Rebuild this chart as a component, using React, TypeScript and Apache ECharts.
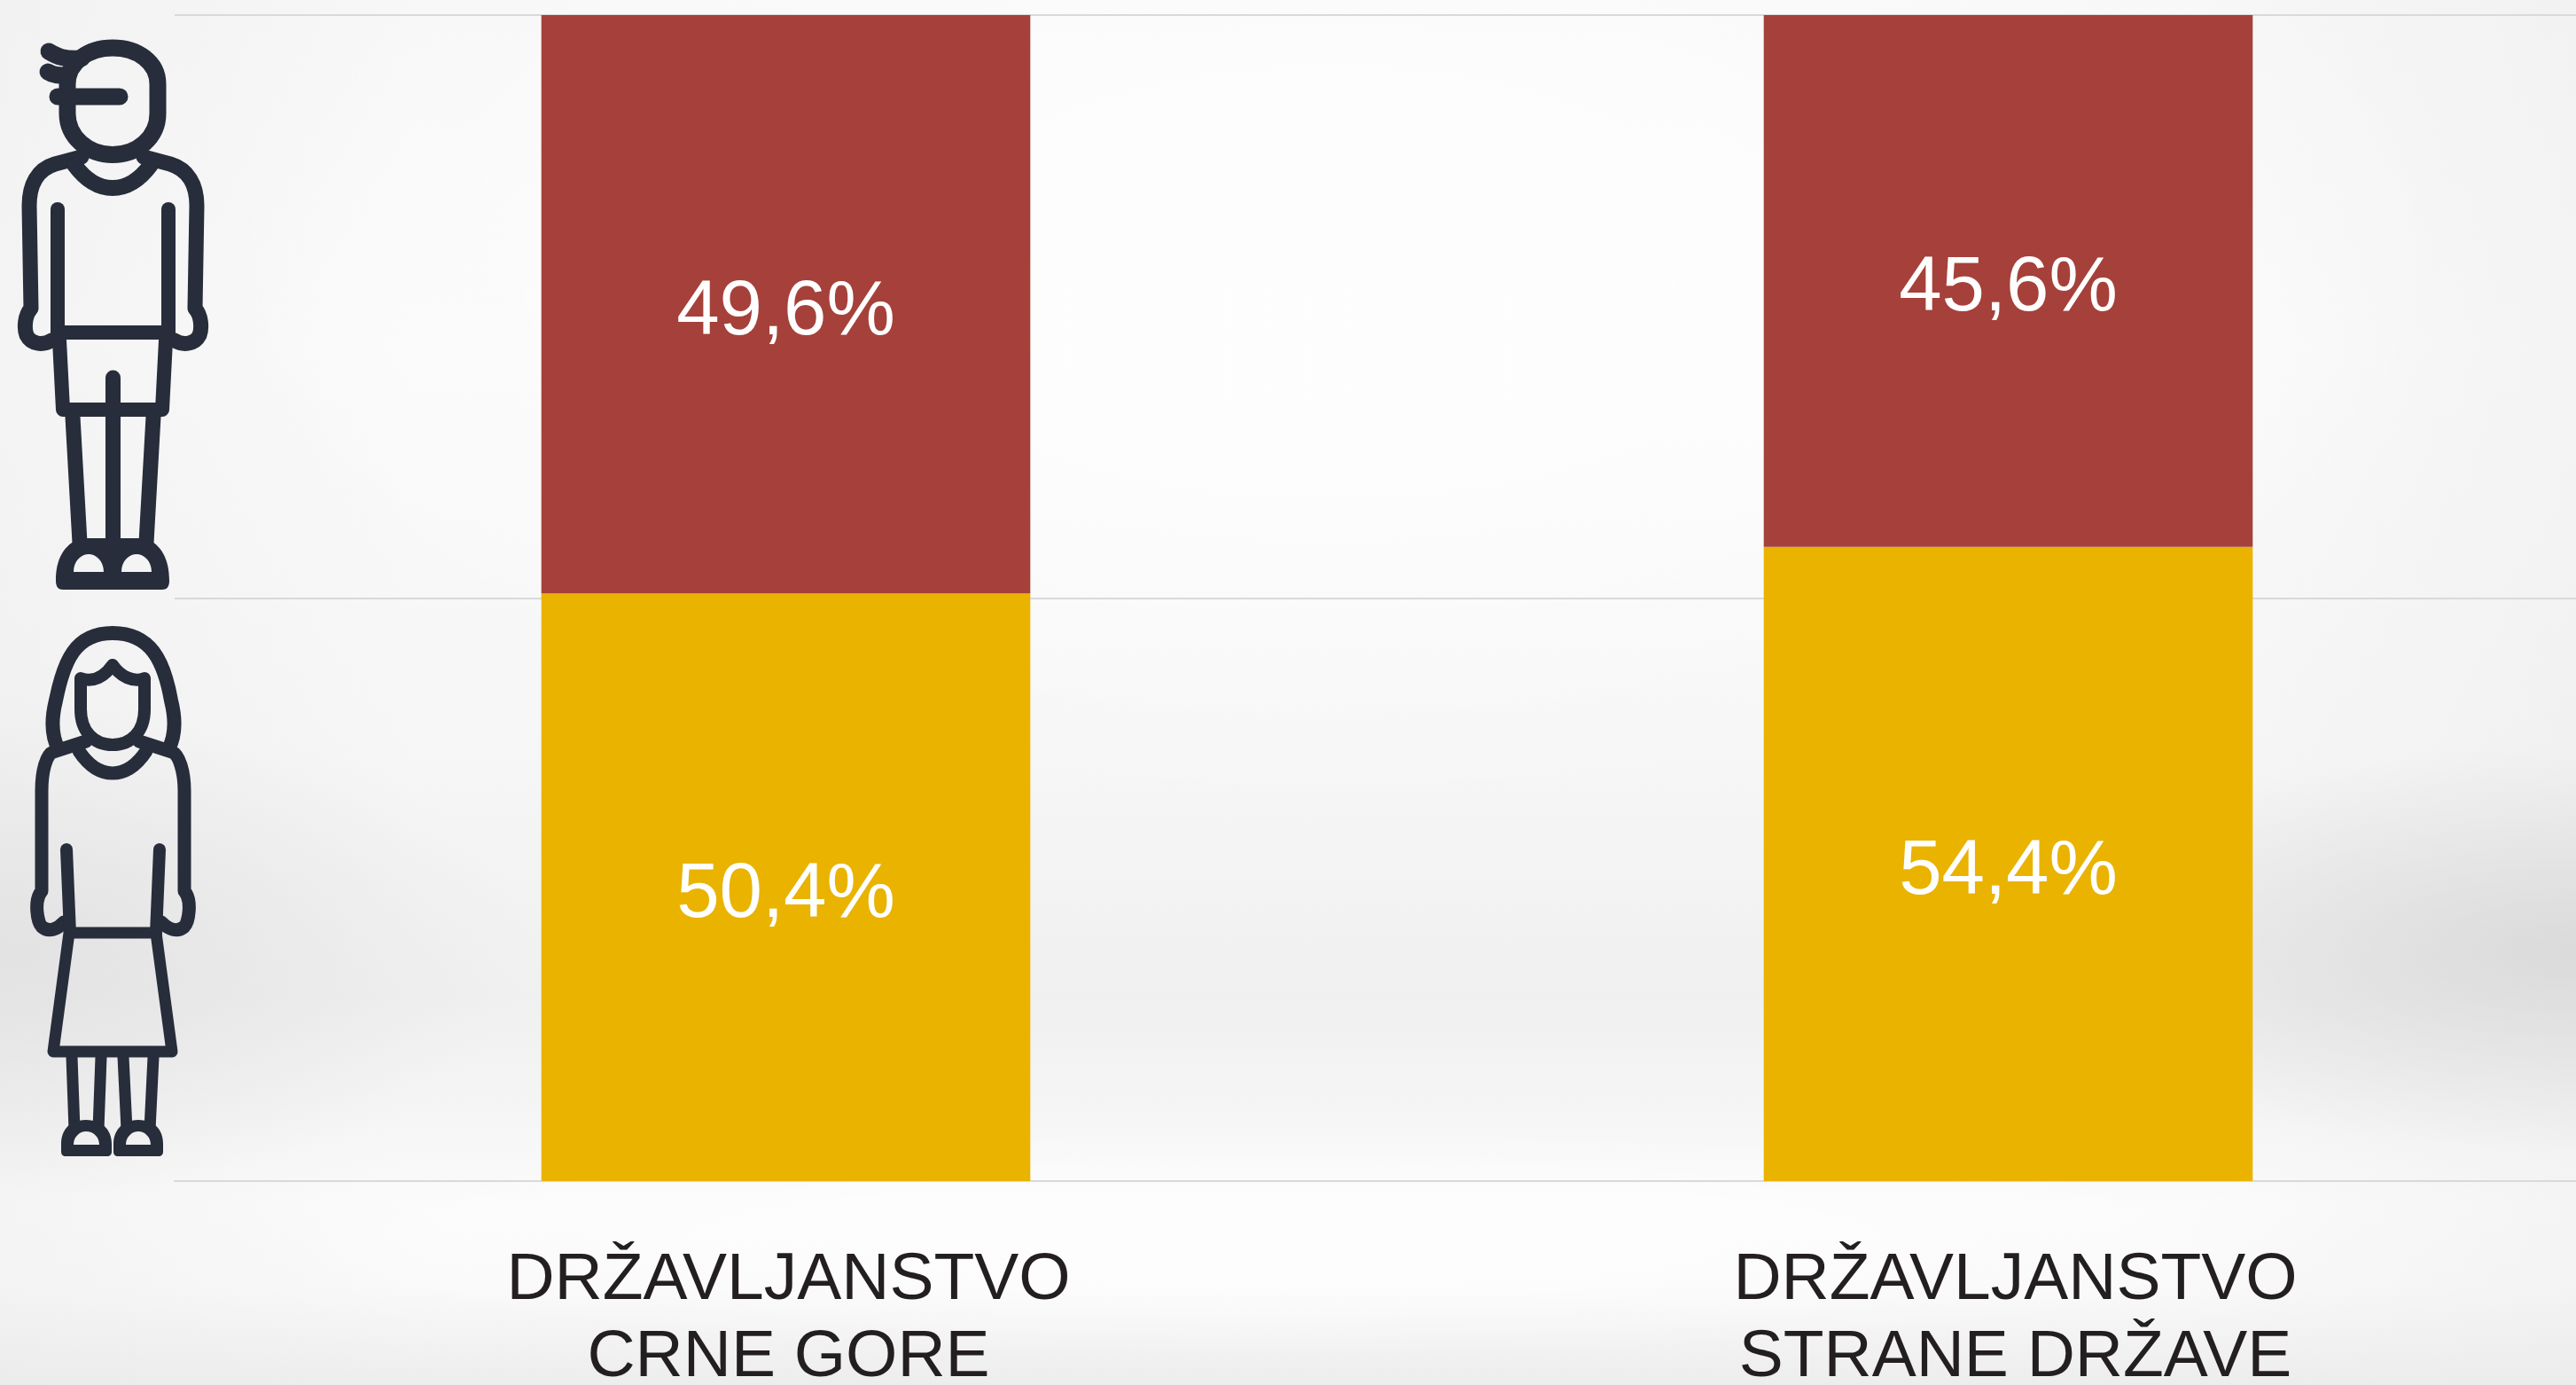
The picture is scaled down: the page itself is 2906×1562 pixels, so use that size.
import React, { useEffect, useRef } from "react";
import * as echarts from "echarts";

const categories = ["DRŽAVLJANSTVO\nCRNE GORE", "DRŽAVLJANSTVO\nSTRANE DRŽAVE"];
const womenShare = [50.4, 54.4];
const menShare = [49.6, 45.6];
const INK = "#272D3A";

const manLines = [
  "M76 95 C76 70 100 54 127 54 C155 54 178 70 178 95 L178 128 C178 155 155 174.5 127 174.5 C100 174.5 76 155 76 128 Z",
  "M55 58 C65 64 72 67 92 66",
  "M54 81 C60 85 66 85 76 85",
  "M65 109 L135 109",
  "M92 177 L62 185 C42 191 33 208 33 232 L35 348 C28 355 27 370 30 378 C35 388 48 390 58 384",
  "M162 177 L192 185 C212 191 222 208 222 232 L220 348 C227 355 228 370 225 378 C220 388 207 390 197 384",
  "M84 186 C98 205 112 212 127 212 C142 212 156 205 170 186",
  "M65 236 L65 382",
  "M190 236 L190 382",
  "M65 375 L190 375",
  "M67 384 L71 462 L183 462 L187 384",
  "M127.5 426 L127.5 640",
  "M82 470 L90 612",
  "M173 470 L165 612",
];
const manWidths = [19, 19, 19, 19, 17, 17, 18, 16, 16, 16, 16, 17, 17, 17];
const manFill =
  "M63 655 C63 630 72 615 90 607 L165 607 C182 615 191 630 191 655 C191 662 188 665 183 665 L71 665 C66 665 63 662 63 655 Z " +
  "M83 645 L117 645 C117 632 108 625 100 625 C92 625 83 632 83 645 Z " +
  "M137 645 L171 645 C171 632 162 625 154 625 C146 625 137 632 137 645 Z";

const womanLines = [
  "M66 845 C58 830 58 810 63 790 C72 745 85 714 127 714 C170 714 185 745 193 790 C198 810 198 830 190 845",
  "M91 765 C105 770 118 763 127 750 C136 763 150 770 163 765 L163 800 C163 825 148 840 127 840 C106 840 91 825 91 800 Z",
  "M97 836 L60 848 C52 851 47 870 47 892 L47 1005 C38 1015 42 1040 47 1045 C55 1052 65 1048 72 1040",
  "M157 836 L194 848 C202 851 208 870 208 892 L208 1005 C217 1015 213 1040 208 1045 C200 1052 190 1048 182 1040",
  "M89 847 C101 865 114 872 127 872 C140 872 153 865 165 847",
  "M75 958 L79 1053",
  "M180 958 L176 1053",
  "M78 1052 L176 1052 L194 1186 L60 1186 Z",
  "M81 1192 L84 1274",
  "M114 1192 L111 1274",
  "M139 1192 L143 1274",
  "M173 1192 L169 1274",
];
const womanWidths = [16, 14, 15, 15, 15, 14, 14, 13, 13, 13, 13, 13];
const womanFill =
  "M69 1290 C69 1275 78 1263 97 1263 C116 1263 126 1275 126 1290 L126 1299 C126 1302 124 1304 121 1304 L74 1304 C71 1304 69 1302 69 1299 Z " +
  "M83 1291 L112 1291 C112 1282 105 1276 97 1276 C90 1276 83 1282 83 1291 Z " +
  "M128 1290 C128 1275 138 1263 156 1263 C175 1263 184 1275 184 1290 L184 1299 C184 1302 182 1304 179 1304 L133 1304 C130 1304 128 1302 128 1299 Z " +
  "M142 1291 L170 1291 C170 1282 163 1276 156 1276 C149 1276 142 1282 142 1291 Z";

const strokeShape = (name: string, d: string, width: number) => {
  echarts.graphic.registerShape(name, echarts.graphic.extendPath(d as any, {}) as any);
  return {
    type: name,
    silent: true,
    style: { fill: "none", stroke: INK, lineWidth: width, lineCap: "round", lineJoin: "round" },
  };
};
const fillShape = (name: string, d: string) => {
  echarts.graphic.registerShape(name, echarts.graphic.extendPath(d as any, {}) as any);
  return { type: name, silent: true, style: { fill: INK } };
};

const bgStyle: React.CSSProperties = {
  position: "absolute",
  left: 0,
  top: 0,
  width: 2906,
  height: 1562,
  overflow: "hidden",
  background: [
    "radial-gradient(ellipse 1300px 620px at 1500px 300px, rgba(255,255,255,0.7) 30%, rgba(255,255,255,0) 100%)",
    "radial-gradient(ellipse 1200px 130px at 1450px 1400px, rgba(255,255,255,0.6) 30%, rgba(255,255,255,0) 100%)",
    "radial-gradient(ellipse 650px 230px at 2906px 1070px, rgba(205,205,205,0.6) 0%, rgba(205,205,205,0) 100%)",
    "radial-gradient(ellipse 600px 280px at 0px 1070px, rgba(215,215,215,0.5) 0%, rgba(215,215,215,0) 100%)",
    "linear-gradient(90deg, rgba(232,232,232,0.35) 0%, rgba(235,235,235,0) 16%, rgba(235,235,235,0) 85%, rgba(232,232,232,0.35) 100%)",
    "linear-gradient(180deg, #f7f7f7 0%, #fafafa 25%, #f6f6f6 55%, #f0f0f0 72%, #f5f5f5 80%, #fbfbfb 87%, #f9f9f9 93%, #ededed 100%)",
  ].join(","),
};

export default function App() {
  const ref = useRef<HTMLDivElement>(null);
  useEffect(() => {
    const chart = echarts.init(ref.current!, undefined, { renderer: "svg" });
    const elements: any[] = [];
    manLines.forEach((d, i) => elements.push(strokeShape("man" + i, d, manWidths[i])));
    elements.push(fillShape("manFill", manFill));
    womanLines.forEach((d, i) => elements.push(strokeShape("woman" + i, d, womanWidths[i])));
    elements.push(fillShape("womanFill", womanFill));
    const label = {
      show: true,
      position: "inside" as const,
      offset: [0, 3],
      color: "#ffffff",
      fontFamily: "Liberation Sans",
      fontSize: 87,
      formatter: (p: any) => p.value.toFixed(1).replace(".", ",") + "%",
    };
    const base = { color: "#231f20", fontFamily: "Liberation Sans", fontSize: 75 };
    chart.setOption({
      animation: false,
      backgroundColor: "transparent",
      grid: { left: 197, top: 17, width: 2758, height: 1315, outerBoundsMode: "none" },
      xAxis: {
        type: "category",
        data: categories,
        axisLine: { show: true, lineStyle: { color: "#d9d9d9", width: 2 } },
        axisTick: { show: false },
        axisLabel: {
          ...base,
          margin: 50,
          interval: 0,
          formatter: (value: string, index: number) => {
            const [first, second] = value.split("\n");
            return `{a${index}|${first}}\n{b${index}|${second}}`;
          },
          rich: {
            a0: { ...base, lineHeight: 114, padding: [0, 0, 0, 6] },
            b0: { ...base, lineHeight: 60, padding: [0, 0, 0, 6] },
            a1: { ...base, lineHeight: 114, padding: [0, 0, 0, 16] },
            b1: { ...base, lineHeight: 60, padding: [0, 0, 0, 16] },
          },
        },
      },
      yAxis: {
        type: "value",
        min: 0,
        max: 100,
        interval: 50,
        axisLabel: { show: false },
        axisLine: { show: false },
        axisTick: { show: false },
        splitLine: { lineStyle: { color: "#d9d9d9", width: 2 } },
      },
      series: [
        { type: "bar", stack: "share", name: "Žene", data: womenShare, barWidth: "40%", itemStyle: { color: "#E9B300" }, label },
        { type: "bar", stack: "share", name: "Muškarci", data: menShare, barWidth: "40%", itemStyle: { color: "#A5413A" }, label },
      ],
      graphic: { elements },
    });
    return () => chart.dispose();
  }, []);
  return (
    <div style={bgStyle}>
      <div ref={ref} style={{ width: 3000, height: 1562 }} />
    </div>
  );
}
